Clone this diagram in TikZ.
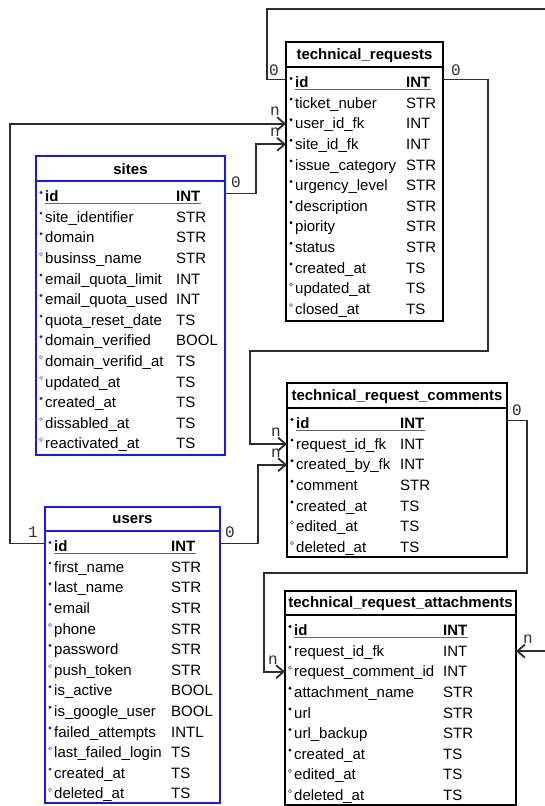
\documentclass[tikz,border=0pt]{standalone}
\usepackage{fontspec}
\setmainfont{Liberation Sans}
\newfontfamily\lblfont{Liberation Mono}
\usetikzlibrary{arrows.meta}
\definecolor{erblue}{RGB}{25,25,245}
\definecolor{conncol}{RGB}{45,45,45}
\tikzset{
  tbox/.style={draw, line width=1.8pt, inner sep=0pt, outer sep=0pt, anchor=north west},
  head/.style={font=\fontsize{15}{18}\selectfont\bfseries, inner sep=0pt},
  fld/.style={font=\fontsize{15}{18}\selectfont, inner sep=0pt, anchor=base west},
  conn/.style={draw=conncol, line width=1.8pt},
  arr/.style={conn, -{Straight Barb[length=7.5pt,width=13pt,line width=1.8pt]}},
  card/.style={font=\lblfont\fontsize{16}{18}\selectfont, text=conncol, inner sep=0pt},
  dotf/.style={fill=#1},
  doto/.style={draw=#1!55, line width=0.7pt, fill=white},
  uline/.style={draw=gray!80!black, line width=1.4pt},
}
% #1 name, #2 title, #3 L, #4 T, #5 R, #6 B, #7 colour, #8 header line y
\newcommand\ertable[8]{%
  \node[tbox, draw=#7, minimum width={#5-#3}, minimum height={#6-#4}] (#1) at (#3,#4) {};
  \node[head] (#1-t) at ({(#3+#5)/2}, {(#4+#8)/2+1}) {#2};
  \draw[draw=#7, line width=1.8pt] (#3,#8) -- (#5,#8);
}
% #1 name, #2 L, #3 header line y, #4 type x, #5 dot colour, #6 rows
\newcommand\errows[6]{%
  \foreach \f/\t/\d [count=\i from 0] in {#6} {
    \pgfmathsetmacro\yc{#3+15.5+20.6*\i}
    \coordinate (#1-c\i) at (#2, \yc);
    \node[fld] (#1-\i) at (#2+9, \yc+5.2) {\ifnum\i=0\bfseries\fi\f};
    \node[fld] (#1-\i t) at (#4, \yc+5.2) {\ifnum\i=0\bfseries\fi\t};
    \path[\d=#5] (#2+5, \yc-4) circle (1.6);
  }
  \draw[uline] ([yshift=-2pt]#1-0.base west) -- ([yshift=-2pt]#1-0t.base east);
}
\begin{document}
\begin{tikzpicture}[x=1pt, y=-1pt]
\useasboundingbox (0,0) rectangle (545,806);
\clip (0,0) rectangle (545,806);
\fill[white] (0,0) rectangle (545,806);

% technical_requests
\ertable{tr}{technical\_requests}{286}{42}{443}{321}{black}{67}
\errows{tr}{286}{67}{406}{black}{id/INT/dotf, ticket\_nuber/STR/dotf, user\_id\_fk/INT/dotf, site\_id\_fk/INT/dotf, issue\_category/STR/dotf, urgency\_level/STR/dotf, description/STR/dotf, piority/STR/dotf, status/STR/dotf, created\_at/TS/dotf, updated\_at/TS/doto, closed\_at/TS/doto}

% sites
\ertable{sites}{sites}{36}{156}{225}{455}{erblue}{181}
\errows{sites}{36}{181}{176}{erblue}{id/INT/dotf, site\_identifier/STR/dotf, domain/STR/dotf, businss\_name/STR/doto, email\_quota\_limit/INT/dotf, email\_quota\_used/INT/dotf, quota\_reset\_date/TS/dotf, domain\_verified/BOOL/dotf, domain\_verifid\_at/TS/doto, updated\_at/TS/doto, created\_at/TS/dotf, dissabled\_at/TS/doto, reactivated\_at/TS/doto}

% users
\ertable{users}{users}{45}{507}{220}{803}{erblue}{531}
\errows{users}{45}{531}{171}{erblue}{id/INT/dotf, first\_name/STR/dotf, last\_name/STR/dotf, email/STR/dotf, phone/STR/doto, password/STR/dotf, push\_token/STR/doto, is\_active/BOOL/dotf, is\_google\_user/BOOL/dotf, failed\_attempts/INTL/dotf, last\_failed\_login/TS/doto, created\_at/TS/dotf, deleted\_at/TS/doto}

% technical_request_comments
\ertable{trc}{technical\_request\_comments}{287}{383}{507}{557}{black}{408}
\errows{trc}{287}{408}{400}{black}{id/INT/dotf, request\_id\_fk/INT/dotf, created\_by\_fk/INT/dotf, comment/STR/dotf, created\_at/TS/dotf, edited\_at/TS/doto, deleted\_at/TS/doto}

% technical_request_attachments
\ertable{tra}{technical\_request\_attachments}{285}{591}{516}{805}{black}{615}
\errows{tra}{285}{615}{443}{black}{id/INT/dotf, request\_id\_fk/INT/dotf, request\_comment\_id/INT/doto, attachment\_name/STR/dotf, url/STR/dotf, url\_backup/STR/dotf, created\_at/TS/dotf, edited\_at/TS/doto, deleted\_at/TS/doto}

% connectors
\draw[arr] ([yshift=3pt]tr.west |- tr-c0) -| (267,9) -- (570,9) |- (tra.east |- tra-c1);
\draw[arr] ([yshift=3pt]tr.east |- tr-c0) -| (488,351) -- (250,351) |- (trc.west |- trc-c1);
\draw[arr] ([yshift=3pt]sites.east |- sites-c0) -| (256,150) |- (tr.west |- tr-c3);
\draw[arr] ([yshift=3pt]users.west |- users-c0) -| (10,300) |- (tr.west |- tr-c2);
\draw[arr] ([yshift=3pt]users.east |- users-c0) -| (258,500) |- (trc.west |- trc-c2);
\draw[arr] ([yshift=3pt]trc.east |- trc-c0) -| (527,573) -- (264,573) |- (tra.west |- tra-c2);

% cardinalities
\node[card] (k1) at (274,70) {0};
\node[card] (k2) at (456,70) {0};
\node[card] (k3) at (236,182) {0};
\node[card] (k4) at (33,532) {1};
\node[card] (k5) at (230,532) {0};
\node[card] (k6) at (517,410) {0};
\node[card] (n1) at (275,111) {n};
\node[card] (n2) at (275,132) {n};
\node[card] (n3) at (276,432) {n};
\node[card] (n4) at (276,453) {n};
\node[card] (n5) at (273,660) {n};
\node[card] (n6) at (528,639) {n};
\end{tikzpicture}
\end{document}
